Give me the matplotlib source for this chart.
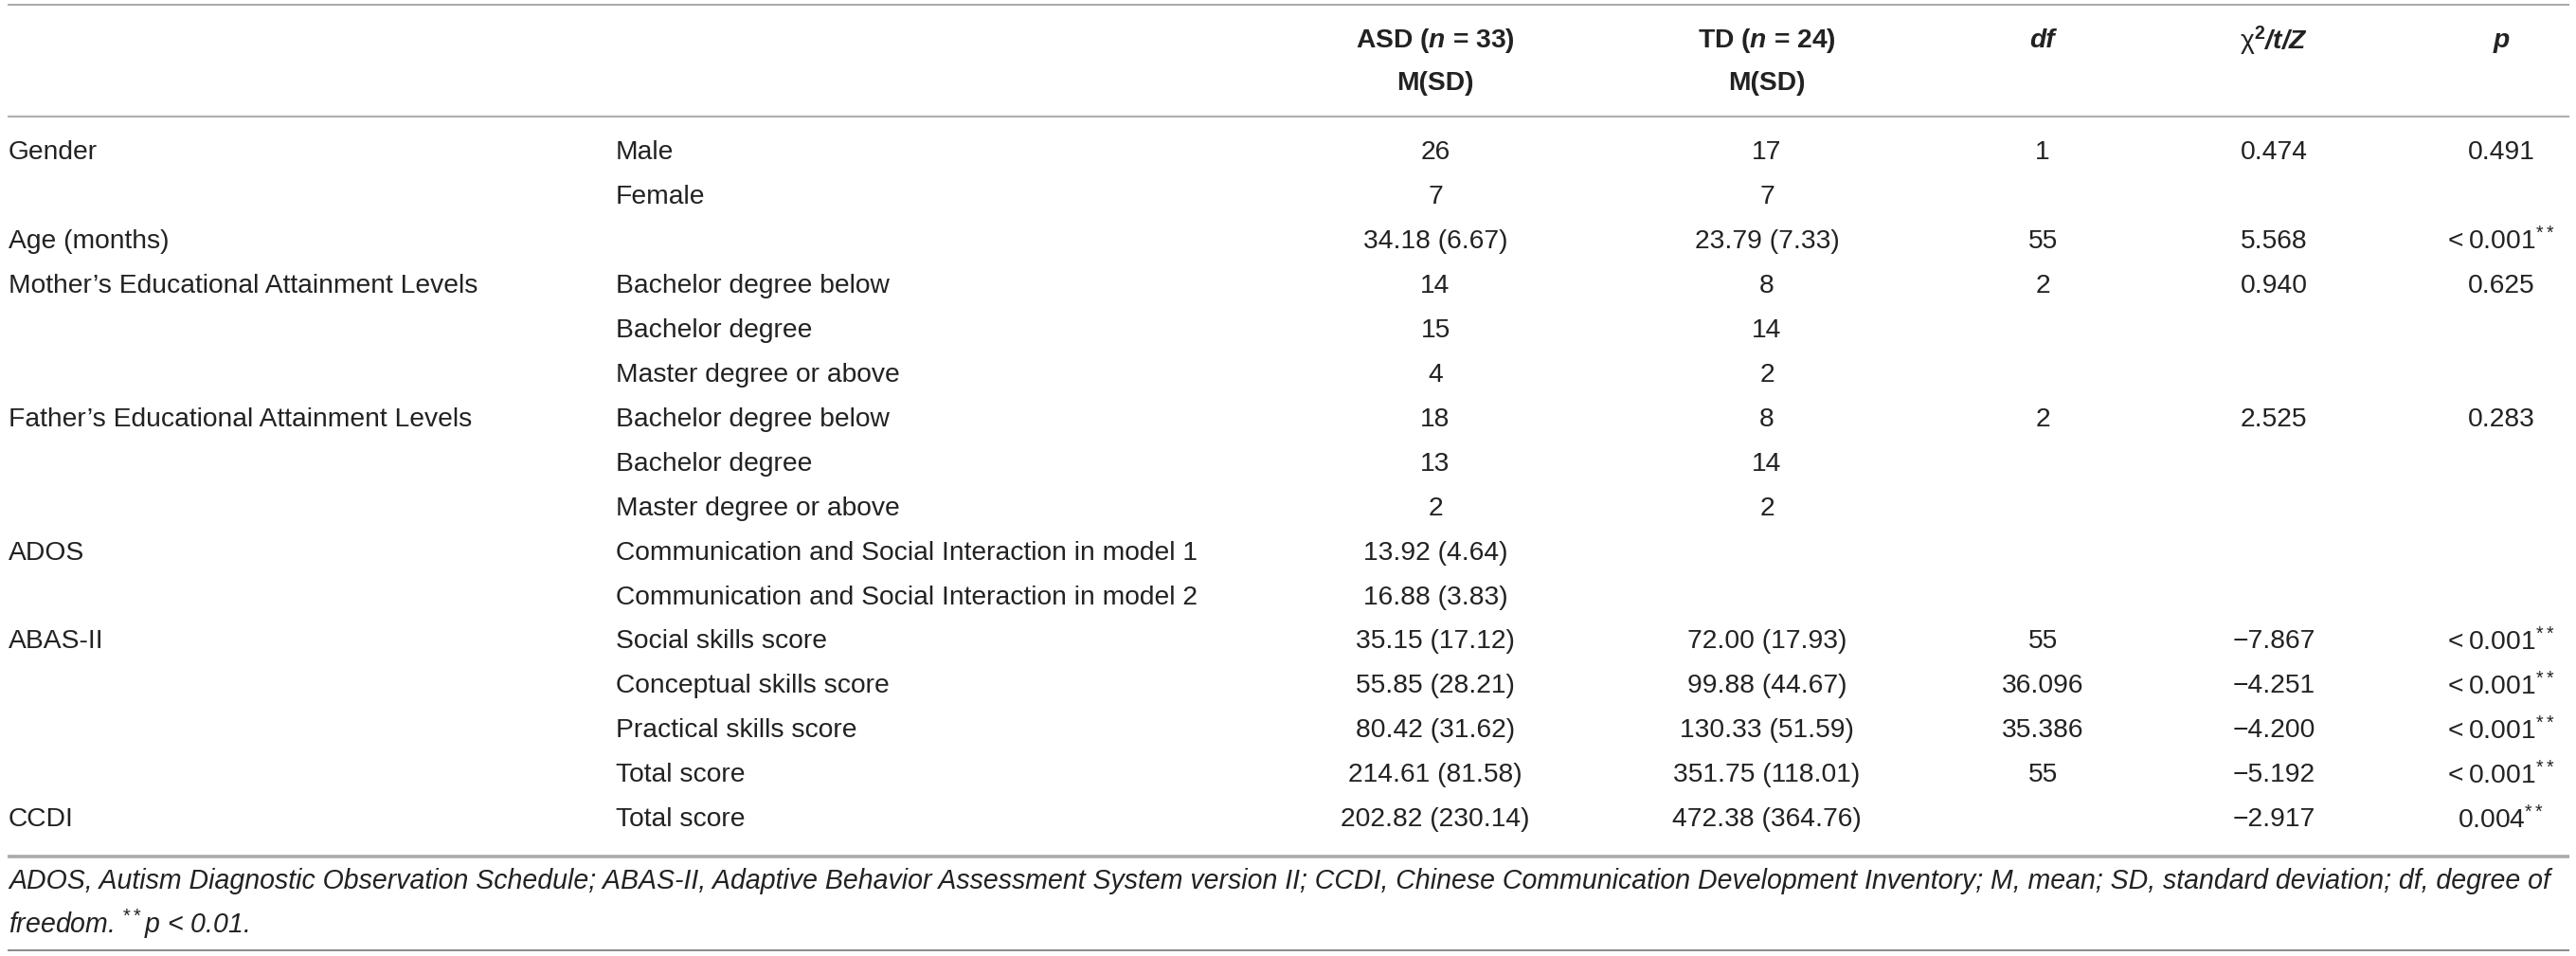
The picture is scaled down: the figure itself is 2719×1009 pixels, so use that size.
import matplotlib
matplotlib.use('Agg')
import matplotlib.pyplot as plt

plt.rcParams['font.family'] = ['Liberation Sans', 'DejaVu Sans']
plt.rcParams['mathtext.fontset'] = 'custom'
plt.rcParams['mathtext.rm'] = 'Liberation Sans'
plt.rcParams['mathtext.it'] = 'Liberation Sans:italic'
plt.rcParams['mathtext.bf'] = 'Liberation Sans:bold'
try:
    plt.rcParams['mathtext.bfit'] = 'Liberation Sans:italic:bold'
except KeyError:
    pass

# ---------------- data ----------------
variables = ["Gender", "", "Age (months)",
             "Mother\u2019s Educational Attainment Levels", "", "",
             "Father\u2019s Educational Attainment Levels", "", "",
             "ADOS", "", "ABAS-II", "", "", "", "CCDI"]
subcategories = ["Male", "Female", "",
                 "Bachelor degree below", "Bachelor degree", "Master degree or above",
                 "Bachelor degree below", "Bachelor degree", "Master degree or above",
                 "Communication and Social Interaction in model 1",
                 "Communication and Social Interaction in model 2",
                 "Social skills score", "Conceptual skills score",
                 "Practical skills score", "Total score", "Total score"]
asd_values = ["26", "7", "34.18 (6.67)", "14", "15", "4", "18", "13", "2",
              "13.92 (4.64)", "16.88 (3.83)", "35.15 (17.12)", "55.85 (28.21)",
              "80.42 (31.62)", "214.61 (81.58)", "202.82 (230.14)"]
td_values = ["17", "7", "23.79 (7.33)", "8", "14", "2", "8", "14", "2",
             "", "", "72.00 (17.93)", "99.88 (44.67)", "130.33 (51.59)",
             "351.75 (118.01)", "472.38 (364.76)"]
df_values = ["1", "", "55", "2", "", "", "2", "", "", "", "",
             "55", "36.096", "35.386", "55", ""]
stat_values = ["0.474", "", "5.568", "0.940", "", "", "2.525", "", "", "", "",
               "\u22127.867", "\u22124.251", "\u22124.200", "\u22125.192", "\u22122.917"]
p_values = ["0.491", "", "<\u20090.001**", "0.625", "", "", "0.283", "", "", "", "",
            "<\u20090.001**", "<\u20090.001**", "<\u20090.001**", "<\u20090.001**", "0.004**"]

header_line1 = [r"ASD ($\mathbfit{n}$ = 33)", r"TD ($\mathbfit{n}$ = 24)", "df",
                "\u03c7$^{\\mathbf{2}}$$\\mathbfit{/t/Z}$", "p"]
header_line2 = ["M(SD)", "M(SD)", "", "", ""]

footnote_line1 = ("ADOS, Autism Diagnostic Observation Schedule; ABAS-II, Adaptive Behavior "
                  "Assessment System version II; CCDI, Chinese Communication Development "
                  "Inventory; M, mean; SD, standard deviation; df, degree of")
footnote_line2 = r"freedom. $^{**}$p < 0.01."

# ---------------- layout ----------------
W, H = 2719, 1009
fig = plt.figure(figsize=(W / 100, H / 100), dpi=100)
ax = fig.add_axes([0, 0, 1, 1])
ax.set_xlim(0, W)
ax.set_ylim(H, 0)
ax.axis('off')

FS = 20.3
FS_NOTE = 20.55
TXT = '#222222'
x_var = 9
x_sub = 650
x_cols = [1515, 1865, 2156, 2400, 2640]
row_y0 = 161
row_dy = 46.95

def fmt_stars(s):
    if s.endswith("**"):
        return s[:-2] + r"$^{**}$"
    return s

for i in range(len(variables)):
    y = row_y0 + i * row_dy
    ax.text(x_var, y, variables[i], ha='left', va='center', fontsize=FS, color=TXT)
    ax.text(x_sub, y, subcategories[i], ha='left', va='center', fontsize=FS, color=TXT)
    cols = [asd_values[i], td_values[i], df_values[i], stat_values[i], fmt_stars(p_values[i])]
    for xc, val in zip(x_cols, cols):
        if val:
            ax.text(xc, y, val, ha='center', va='center', fontsize=FS, color=TXT)

# headers
for j, (h1, h2) in enumerate(zip(header_line1, header_line2)):
    if j in (0, 1):
        ax.text(x_cols[j], 43, h1, ha='center', va='center', fontsize=FS,
                fontweight='bold', color=TXT)
    elif j == 3:
        ax.text(x_cols[j], 43, h1, ha='center', va='center', fontsize=FS, color=TXT)
    else:
        ax.text(x_cols[j], 43, h1, ha='center', va='center', fontsize=FS,
                fontweight='bold', style='italic', color=TXT)
    if h2:
        ax.text(x_cols[j], 88, h2, ha='center', va='center', fontsize=FS,
                fontweight='bold', color=TXT)

# footnote
ax.text(x_var, 930, footnote_line1, ha='left', va='center', fontsize=FS_NOTE,
        style='italic', color=TXT)
ax.text(x_var, 975, footnote_line2, ha='left', va='center', fontsize=FS_NOTE,
        style='italic', color=TXT)

# rules
x0, x1 = 8, 2712
ax.plot([x0, x1], [5, 5], color='#999999', lw=1.2, solid_capstyle='butt')
ax.plot([x0, x1], [123, 123], color='#b0b0b0', lw=1.6, solid_capstyle='butt')
ax.plot([x0, x1], [904, 904], color='#aaaaaa', lw=2.6, solid_capstyle='butt')
ax.plot([x0, x1], [1003, 1003], color='#888888', lw=1.4, solid_capstyle='butt')

fig.savefig('out.png', dpi=100, facecolor='white')
